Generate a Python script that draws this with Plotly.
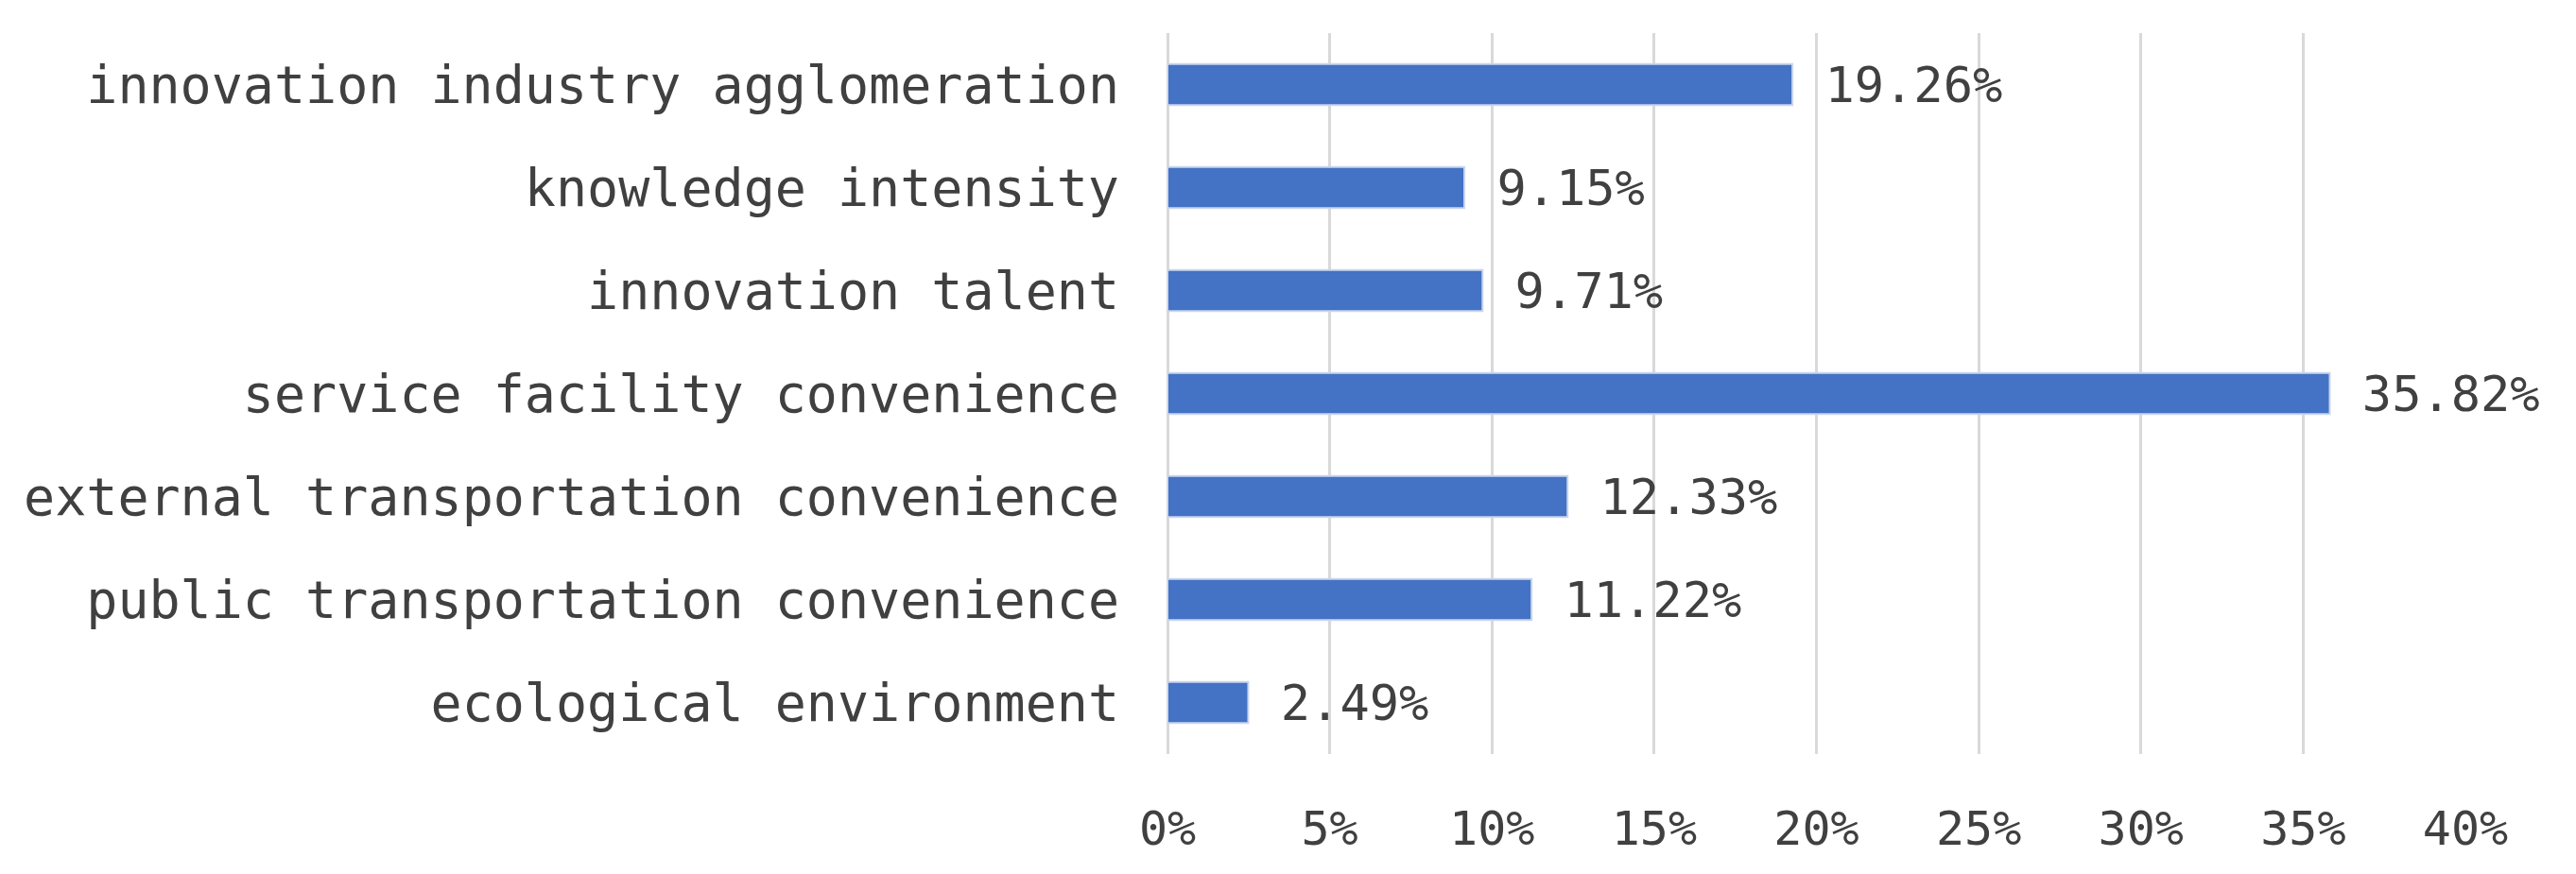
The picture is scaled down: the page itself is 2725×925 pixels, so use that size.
import plotly.graph_objects as go

categories = ["innovation industry agglomeration", "knowledge intensity", "innovation talent",
              "service facility convenience", "external transportation convenience",
              "public transportation convenience", "ecological environment"]
values = [19.26, 9.15, 9.71, 35.82, 12.33, 11.22, 2.49]
labels = ["19.26%", "9.15%", "9.71%", "35.82%", "12.33%", "11.22%", "2.49%"]
tick_vals = [0, 5, 10, 15, 20, 25, 30, 35, 40]
tick_text = ["0%", "5%", "10%", "15%", "20%", "25%", "30%", "35%", "40%"]

font = "DejaVu Sans Mono"
fig = go.Figure(go.Bar(
    y=categories, x=values, orientation="h", width=0.4,
    marker=dict(color="#4472C4", line=dict(color="#c9d6ee", width=2)),
    text=[" " + t for t in labels], textposition="outside", cliponaxis=False,
    constraintext="none",
    textfont=dict(family=font, size=52, color="#404040"),
))
fig.update_layout(
    width=2725, height=925, paper_bgcolor="white", plot_bgcolor="white",
    margin=dict(l=1227, r=125, t=27, b=135),
    showlegend=False,
    xaxis=dict(range=[0, 40], tickvals=tick_vals, ticktext=tick_text,
               showgrid=True, gridcolor="#d9d9d9", gridwidth=3, zeroline=True,
               zerolinecolor="#d9d9d9", zerolinewidth=3,
               tickfont=dict(family=font, size=50, color="#404040"), ticklen=0,
               ticks="", ticklabelstandoff=45),
    yaxis=dict(autorange="reversed", tickfont=dict(family=font, size=55, color="#404040"),
               ticks="", ticklabelstandoff=50, showgrid=False),
)
fig.write_html("out.html")
